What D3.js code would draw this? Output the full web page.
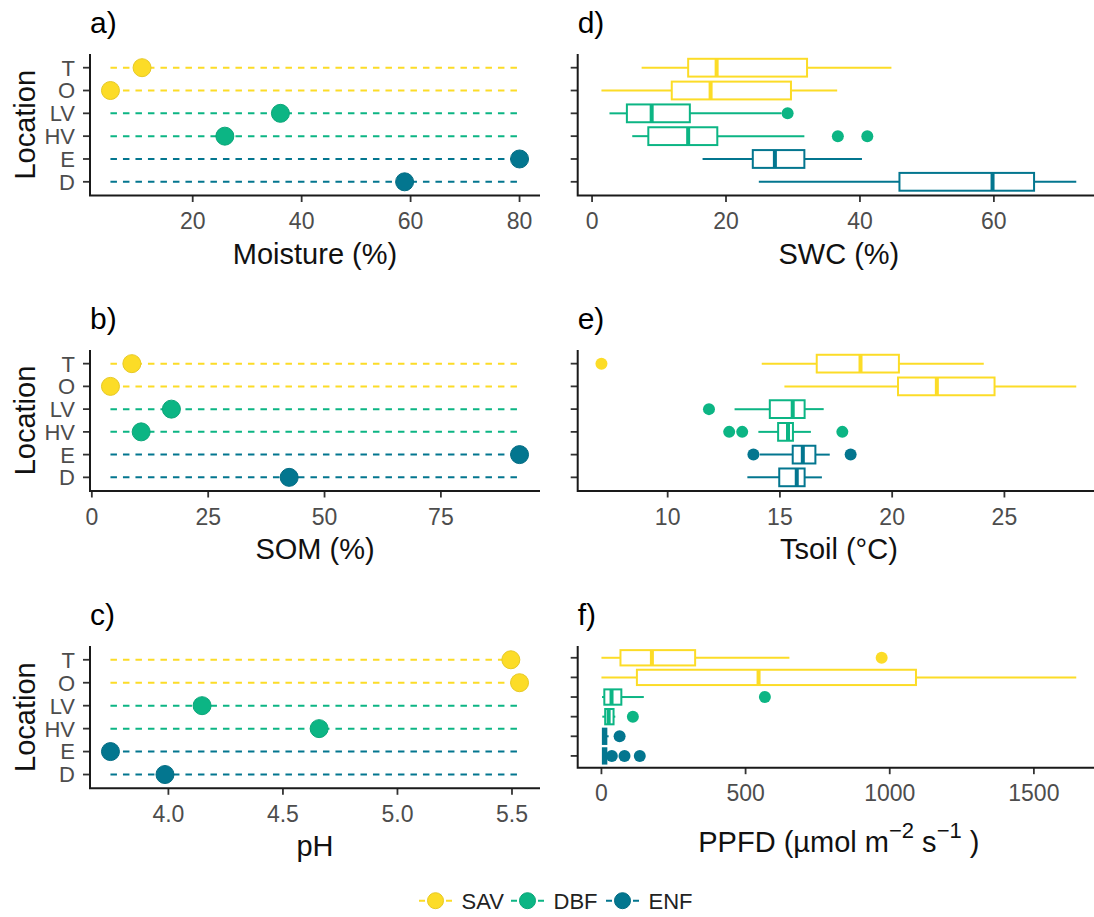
<!DOCTYPE html>
<html lang="en">
<head>
  <meta charset="UTF-8" />
  <title>Site variables by location</title>
  <script src="https://d3js.org/d3.v7.min.js"></script>
  <style>
    body { margin: 0; background: #fff; }
    svg { display: block; font-family: "Liberation Sans", Arial, sans-serif; }
    .tick-label { font-size: 23px; fill: #4d4d4d; }
    .tick-label.y { font-size: 22px; }
    .axis-title { font-size: 29px; fill: #111; }
    .tag { font-size: 30px; fill: #000; }
    .legend text { font-size: 22px; fill: #222; }
  </style>
</head>
<body>
  <svg id="chart" width="1094" height="917"></svg>

  <script>
    // ---- data ----
    const locations = ["T", "O", "LV", "HV", "E", "D"];
    const locGroup = ["SAV", "SAV", "DBF", "DBF", "ENF", "ENF"];
    const groups = ["SAV", "DBF", "ENF"];
    const groupColors = ["#fcdc27", "#0cb584", "#03768f"];

    // left column: one value per location
    const moisture = [10.7, 4.9, 36.1, 25.9, 80.0, 58.9];
    const som = [8.6, 4.0, 17.1, 10.6, 91.9, 42.4];
    const ph = [5.495, 5.533, 4.147, 4.658, 3.747, 3.985];

    // right column: [whisker low, q1, median, q3, whisker high] per location
    const swcBox = [
      [7.4, 14.35, 18.6, 32.1, 44.7],
      [1.4, 11.9, 17.7, 29.7, 36.6],
      [2.6, 5.2, 8.9, 14.6, 28.3],
      [6.0, 8.4, 14.35, 18.7, 31.7],
      [16.5, 24.0, 27.3, 31.7, 40.3],
      [24.9, 45.9, 59.8, 66.0, 72.3]
    ];
    const swcOut = [[], [], [29.2], [36.7, 41.1], [], []];

    const tsoilBox = [
      [14.19, 16.64, 18.59, 20.3, 24.08],
      [15.2, 20.26, 21.99, 24.56, 28.2],
      [12.98, 14.55, 15.57, 16.1, 16.95],
      [14.04, 14.92, 15.36, 15.58, 16.38],
      [14.1, 15.57, 16.02, 16.58, 17.22],
      [13.55, 14.97, 15.75, 16.1, 16.87]
    ];
    const tsoilOut = [[7.05], [], [11.84], [12.74, 13.32, 17.78], [13.82, 18.15], []];

    const ppfdBox = [
      [0, 66, 175, 325, 652],
      [0, 123, 545, 1091, 1647],
      [2, 10, 35, 69, 147],
      [3, 13, 25, 42, 48],
      [2, 5, 11, 17, 25],
      [2, 5, 10, 17, 19]
    ];
    const ppfdOut = [[972], [], [567], [109], [63], [36, 80, 133]];

    const moistureTicks = [20, 40, 60, 80];
    const somTicks = [0, 25, 50, 75];
    const phTicks = [4.0, 4.5, 5.0, 5.5];
    const swcTicks = [0, 20, 40, 60];
    const tsoilTicks = [10, 15, 20, 25];
    const ppfdTicks = [0, 500, 1000, 1500];

    // ---- layout ----
    const svg = d3.select("#chart");
    const color = d3.scaleOrdinal(groups, groupColors);
    const colOf = i => color(locGroup[i]);

    const leftX = [90, 540];
    const rightX = [577.7, 1100];

    // ggplot style 5% expansion on continuous axes
    function expanded(vals) {
      const [lo, hi] = d3.extent(vals);
      const pad = (hi - lo) * 0.05;
      return [lo - pad, hi + pad];
    }

    function drawAxes(g, x, y, ticks, fmt, showYLabels) {
      const [x0, x1] = x.range();
      const [y0, y1] = y.range();

      // x ticks
      ticks.forEach(t => {
        g.append("line")
          .attr("x1", x(t)).attr("x2", x(t))
          .attr("y1", y1).attr("y2", y1 + 6.5)
          .attr("stroke", "#333").attr("stroke-width", 1.8);
        g.append("text")
          .attr("class", "tick-label")
          .attr("x", x(t)).attr("y", y1 + 33.5)
          .attr("text-anchor", "middle")
          .text(fmt(t));
      });

      // y ticks
      locations.forEach(l => {
        g.append("line")
          .attr("x1", x0 - 7).attr("x2", x0)
          .attr("y1", y(l)).attr("y2", y(l))
          .attr("stroke", "#333").attr("stroke-width", 1.8);
        if (showYLabels) {
          g.append("text")
            .attr("class", "tick-label y")
            .attr("x", x0 - 15).attr("y", y(l))
            .attr("dy", "0.36em")
            .attr("text-anchor", "end")
            .text(l);
        }
      });

      // axis lines
      g.append("path")
        .attr("d", `M${x0},${y0}V${y1}H${x1}`)
        .attr("fill", "none")
        .attr("stroke", "#1a1a1a")
        .attr("stroke-width", 2);
    }

    function addTitles(g, x, y, tag, title, titleY, locLabel) {
      const [x0, x1] = x.range();
      const [y0, y1] = y.range();
      g.append("text").attr("class", "tag")
        .attr("x", x0).attr("y", y0 - 21)
        .text(tag);
      if (title) {
        g.append("text").attr("class", "axis-title")
          .attr("x", (x0 + x1) / 2).attr("y", titleY)
          .attr("text-anchor", "middle")
          .text(title);
      }
      if (locLabel) {
        g.append("text").attr("class", "axis-title")
          .attr("transform", `translate(35,${(y0 + y1) / 2}) rotate(-90)`)
          .attr("text-anchor", "middle")
          .text("Location");
      }
    }

    function dotPanel(values, ticks, fmt, top, bottom, tag, title) {
      const g = svg.append("g");
      const x = d3.scaleLinear().domain(expanded(values)).range(leftX);
      const y = d3.scalePoint().domain(locations).range([top, bottom]).padding(0.6);
      const [lo, hi] = d3.extent(values);

      drawAxes(g, x, y, ticks, fmt, true);

      g.selectAll(".guide")
        .data(locations)
        .join("line")
        .attr("x1", x(lo)).attr("x2", x(hi))
        .attr("y1", d => y(d)).attr("y2", d => y(d))
        .attr("stroke", (d, i) => colOf(i))
        .attr("stroke-width", 2)
        .attr("stroke-dasharray", "6.5,6");

      g.selectAll(".dot")
        .data(values)
        .join("circle")
        .attr("cx", d => x(d))
        .attr("cy", (d, i) => y(locations[i]))
        .attr("r", 9)
        .attr("fill", (d, i) => colOf(i))
        .attr("stroke", (d, i) => d3.color(colOf(i)).darker(0.25))
        .attr("stroke-width", 1);

      addTitles(g, x, y, tag, title, bottom + 68, true);
      return g;
    }

    function boxPanel(boxes, outliers, ticks, fmt, top, bottom, tag, title, titleY) {
      const g = svg.append("g");
      const all = boxes.flat().concat(outliers.flat());
      const x = d3.scaleLinear().domain(expanded(all)).range(rightX);
      const y = d3.scalePoint().domain(locations).range([top, bottom]).padding(0.6);
      const bh = y.step() * 0.78;

      drawAxes(g, x, y, ticks, fmt, false);

      boxes.forEach((b, i) => {
        const cy = y(locations[i]);
        const c = colOf(i);
        const [w0, q1, med, q3, w1] = b;
        g.append("line")
          .attr("x1", x(w0)).attr("x2", x(q1)).attr("y1", cy).attr("y2", cy)
          .attr("stroke", c).attr("stroke-width", 2);
        g.append("line")
          .attr("x1", x(q3)).attr("x2", x(w1)).attr("y1", cy).attr("y2", cy)
          .attr("stroke", c).attr("stroke-width", 2);
        g.append("rect")
          .attr("x", x(q1)).attr("y", cy - bh / 2)
          .attr("width", x(q3) - x(q1)).attr("height", bh)
          .attr("fill", "#fff")
          .attr("stroke", c).attr("stroke-width", 2);
        g.append("line")
          .attr("x1", x(med)).attr("x2", x(med))
          .attr("y1", cy - bh / 2).attr("y2", cy + bh / 2)
          .attr("stroke", c).attr("stroke-width", 4);

        g.selectAll(null)
          .data(outliers[i])
          .join("circle")
          .attr("cx", d => x(d))
          .attr("cy", cy)
          .attr("r", 6)
          .attr("fill", c);
      });

      addTitles(g, x, y, tag, null, 0, false);

      const tt = g.append("text").attr("class", "axis-title")
        .attr("x", (rightX[0] + rightX[1]) / 2).attr("y", titleY)
        .attr("text-anchor", "middle");
      if (Array.isArray(title)) {
        title.forEach(part => {
          const ts = tt.append("tspan").text(part.t);
          if (part.dy) ts.attr("dy", part.dy);
          if (part.size) ts.attr("font-size", part.size);
        });
      } else {
        tt.text(title);
      }
      return g;
    }

    const f0 = d3.format("d");
    const f1 = d3.format(".1f");

    // ---- left column ----
    dotPanel(moisture, moistureTicks, f0, 54, 195.5, "a)", "Moisture (%)");
    dotPanel(som, somTicks, f0, 350, 491, "b)", "SOM (%)");
    dotPanel(ph, phTicks, f1, 646, 788.3, "c)", "pH");

    // ---- right column ----
    boxPanel(swcBox, swcOut, swcTicks, f0, 54, 195.5, "d)", "SWC (%)", 195.5 + 68);
    boxPanel(tsoilBox, tsoilOut, tsoilTicks, f0, 350, 491, "e)", "Tsoil (°C)", 491 + 68);
    boxPanel(ppfdBox, ppfdOut, ppfdTicks, f0, 646, 767.7, "f)", [
      { t: "PPFD (µmol m" },
      { t: "\u22122", dy: -14, size: 22 },
      { t: " s", dy: 14 },
      { t: "\u22121", dy: -14, size: 22 },
      { t: " )", dy: 14 }
    ], 852);

    // ---- legend ----
    const legendX = [419, 511, 606];
    const legend = svg.append("g").attr("class", "legend");
    groups.forEach((grp, i) => {
      const lx = legendX[i], ly = 900.7;
      legend.append("line")
        .attr("x1", lx).attr("x2", lx + 33)
        .attr("y1", ly).attr("y2", ly)
        .attr("stroke", color(grp)).attr("stroke-width", 2)
        .attr("stroke-dasharray", "6,3");
      legend.append("circle")
        .attr("cx", lx + 16.5).attr("cy", ly)
        .attr("r", 8)
        .attr("fill", color(grp))
        .attr("stroke", d3.color(color(grp)).darker(0.25))
        .attr("stroke-width", 1);
      legend.append("text")
        .attr("x", lx + 42.5).attr("y", ly)
        .attr("dy", "0.36em")
        .text(grp);
    });
  </script>
</body>
</html>
